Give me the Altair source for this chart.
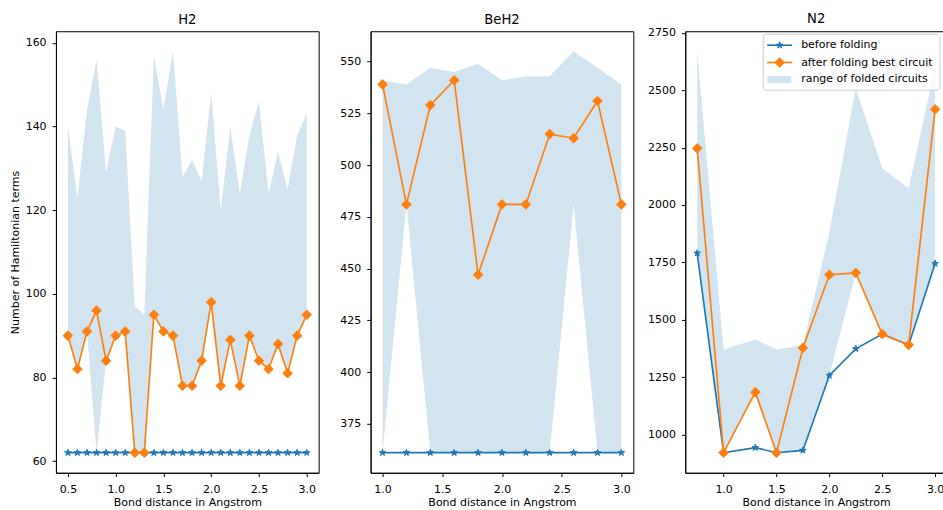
import altair as alt
import pandas as pd

# ---------------- data ----------------
h2_dist = [0.5, 0.6, 0.7, 0.8, 0.9, 1.0, 1.1, 1.2, 1.3, 1.4, 1.5, 1.6, 1.7,
           1.8, 1.9, 2.0, 2.1, 2.2, 2.3, 2.4, 2.5, 2.6, 2.7, 2.8, 2.9, 3.0]
h2_before = [62, 62, 62, 62, 62, 62, 62, 62, 62, 62, 62, 62, 62,
             62, 62, 62, 62, 62, 62, 62, 62, 62, 62, 62, 62, 62]
h2_best = [90, 82, 91, 96, 84, 90, 91, 62, 62, 95, 91, 90, 78,
           78, 84, 98, 78, 89, 78, 90, 84, 82, 88, 81, 90, 95]
h2_low = [90, 82, 91, 62, 84, 90, 91, 62, 62, 95, 91, 90, 78,
          78, 84, 98, 78, 89, 78, 90, 84, 82, 88, 81, 90, 95]
h2_high = [140, 123, 144, 156, 129, 140, 139, 97, 95, 157, 144, 158, 128,
           132, 127, 148, 120, 140, 124, 138, 146, 124, 134, 125, 138, 143]

beh2_dist = [1.0, 1.2, 1.4, 1.6, 1.8, 2.0, 2.2, 2.4, 2.6, 2.8, 3.0]
beh2_before = [361, 361, 361, 361, 361, 361, 361, 361, 361, 361, 361]
beh2_best = [539, 481, 529, 541, 447, 481, 481, 515, 513, 531, 481]
beh2_low = [361, 481, 361, 361, 361, 361, 361, 361, 481, 361, 361]
beh2_high = [541, 539, 547, 545, 549, 541, 543, 543, 555, 547, 539]

n2_dist = [0.75, 1.0, 1.3, 1.5, 1.75, 2.0, 2.25, 2.5, 2.75, 3.0]
n2_before = [1790, 920, 942, 920, 930, 1257, 1373, 1437, 1390, 1745]
n2_best = [2247, 920, 1184, 920, 1377, 1696, 1704, 1437, 1390, 2417]
n2_low = [1790, 920, 1184, 920, 930, 1257, 1704, 1437, 1390, 1745]
n2_high = [2670, 1370, 1413, 1370, 1390, 1880, 2510, 2160, 2073, 2600]

legend_labels = ["before folding", "after folding best circuit",
                 "range of folded circuits"]

# ---------------- style ----------------
BLUE = "#1f77b4"
ORANGE = "#ff7f0e"
FONT = "DejaVu Sans"
STAR = ("M0,-1 L0.2245,-0.309 L0.951,-0.309 L0.363,0.118 L0.588,0.809 "
        "L0,0.382 L-0.588,0.809 L-0.363,0.118 L-0.951,-0.309 "
        "L-0.2245,-0.309 Z")
LW = 1.65
STAR_SIZE = 48
DIAMOND_SIZE = 92
PLOT_H = 442


def padded(lo, hi, frac=0.05):
    span = hi - lo
    return [lo - frac * span, hi + frac * span]


def panel(title, dist, before, best, low, high, xticks, yticks, width,
          ytitle=None, title_offset=4):
    df = pd.DataFrame({"dist": dist, "before": before, "best": best,
                       "low": low, "high": high})
    xdom = padded(min(dist), max(dist))
    ydom = padded(min(before + best + low), max(high + best))
    xs = alt.Scale(domain=xdom, nice=False, zero=False)
    ys = alt.Scale(domain=ydom, nice=False, zero=False)
    xaxis = alt.Axis(values=xticks, format=".1f",
                     title="Bond distance in Angstrom",
                     labelPadding=7, titlePadding=2)
    yaxis = alt.Axis(values=yticks, format="d",
                     title=ytitle if ytitle else None,
                     labelPadding=6, titlePadding=5)
    x = alt.X("dist:Q", scale=xs, axis=xaxis)
    base = alt.Chart(df)

    band = base.mark_area(color=BLUE, opacity=0.2).encode(
        x=x, y=alt.Y("low:Q", scale=ys, axis=yaxis), y2="high:Q")
    before_line = base.mark_line(color=BLUE, strokeWidth=LW).encode(
        x=x, y=alt.Y("before:Q", scale=ys))
    before_pts = base.mark_point(shape=STAR, filled=True, color=BLUE,
                                 stroke=BLUE, strokeWidth=1, size=STAR_SIZE,
                                 opacity=1).encode(
        x=x, y=alt.Y("before:Q", scale=ys))
    best_line = base.mark_line(color=ORANGE, strokeWidth=LW).encode(
        x=x, y=alt.Y("best:Q", scale=ys))
    best_pts = base.mark_point(shape="diamond", filled=True, color=ORANGE,
                               stroke=ORANGE, strokeWidth=1,
                               size=DIAMOND_SIZE, opacity=1).encode(
        x=x, y=alt.Y("best:Q", scale=ys))

    return alt.layer(band, before_line, before_pts, best_line,
                     best_pts).properties(
        width=width, height=PLOT_H,
        title=alt.TitleParams(title, fontSize=13.2, fontWeight="normal",
                              font=FONT, offset=title_offset, frame="group",
                              color="black"))


def legend_layers():
    one = alt.Data(values=[{}])
    box = alt.Chart(one).mark_rect(
        fill="white", fillOpacity=0.8, stroke="#cccccc", strokeWidth=1,
        cornerRadius=3).encode(
        x=alt.value(78), x2=alt.value(255), y=alt.value(3), y2=alt.value(59))
    rows = [14, 31.3, 48.3]
    parts = [box]
    # before folding: line + star
    parts.append(alt.Chart(one).mark_rule(color=BLUE, strokeWidth=LW).encode(
        x=alt.value(82), x2=alt.value(107), y=alt.value(rows[0])))
    parts.append(alt.Chart(one).mark_point(
        shape=STAR, filled=True, color=BLUE, stroke=BLUE, strokeWidth=1,
        size=STAR_SIZE, opacity=1).encode(
        x=alt.value(94.5), y=alt.value(rows[0])))
    # best circuit: line + diamond
    parts.append(alt.Chart(one).mark_rule(color=ORANGE, strokeWidth=LW).encode(
        x=alt.value(82), x2=alt.value(107), y=alt.value(rows[1])))
    parts.append(alt.Chart(one).mark_point(
        shape="diamond", filled=True, color=ORANGE, stroke=ORANGE,
        strokeWidth=1, size=DIAMOND_SIZE, opacity=1).encode(
        x=alt.value(94.5), y=alt.value(rows[1])))
    # range of folded circuits: patch
    parts.append(alt.Chart(one).mark_rect(color=BLUE, opacity=0.2).encode(
        x=alt.value(82), x2=alt.value(106), y=alt.value(rows[2] - 3.5),
        y2=alt.value(rows[2] + 3.5)))
    for label, yy in zip(legend_labels, rows):
        parts.append(alt.Chart(one).mark_text(
            align="left", baseline="middle", font=FONT, fontSize=11,
            color="black").encode(
            x=alt.value(116), y=alt.value(yy), text=alt.value(label)))
    return parts


h2 = panel("H2", h2_dist, h2_before, h2_best, h2_low, h2_high,
           [0.5, 1.0, 1.5, 2.0, 2.5, 3.0], [60, 80, 100, 120, 140, 160],
           263, ytitle="Number of Hamiltonian terms")
beh2 = panel("BeH2", beh2_dist, beh2_before, beh2_best, beh2_low, beh2_high,
             [1.0, 1.5, 2.0, 2.5, 3.0],
             [375, 400, 425, 450, 475, 500, 525, 550], 263)
# the top tick label pokes above this panel, so its title sits closer
n2 = panel("N2", n2_dist, n2_before, n2_best, n2_low, n2_high,
           [1.0, 1.5, 2.0, 2.5, 3.0],
           [1000, 1250, 1500, 1750, 2000, 2250, 2500, 2750], 262,
           title_offset=0.6)
n2 = alt.layer(n2, *legend_layers())

chart = alt.hconcat(h2, beh2, n2, spacing=52, bounds="flush").properties(
    padding={"left": 8, "top": 11, "right": -5, "bottom": 0}
).configure_view(
    stroke="black", strokeWidth=1
).configure_axis(
    labelFont=FONT, labelFontSize=11, labelColor="black",
    titleFont=FONT, titleFontSize=11, titleFontWeight="normal",
    titleColor="black", domainColor="black", domainWidth=1,
    tickColor="black", tickSize=3.85, tickWidth=1,
    grid=False
)

chart.save("out.html", embed_options={"renderer": "svg", "actions": False})
